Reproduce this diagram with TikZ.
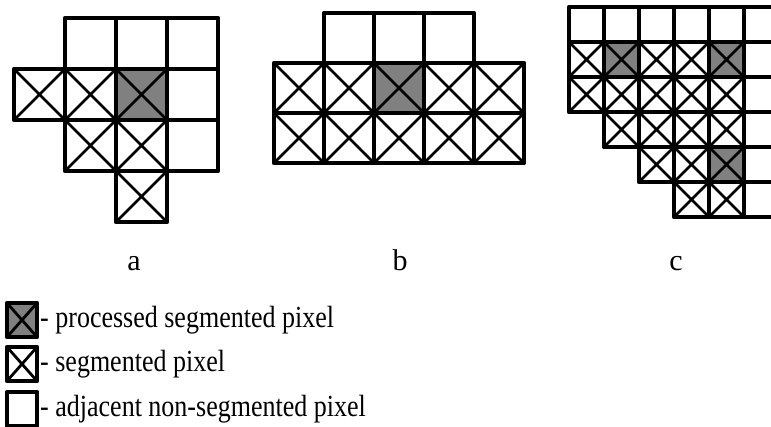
\documentclass[tikz,border=0pt]{standalone}
\usepackage{fontspec}
\setmainfont{Liberation Serif}
\definecolor{pxgray}{HTML}{808080}
\tikzset{
  cellline/.style={line width=4.2pt, line join=round, line cap=round},
  diagline/.style={line width=2.8pt},
  pics/pxe/.style={code={\draw[cellline] (0,0) rectangle (#1,#1);}},
  pics/pxs/.style={code={
    \fill[white] (0,0) rectangle (#1,#1);
    \draw[diagline] (0,0) -- (#1,#1) (#1,0) -- (0,#1);
    \draw[cellline] (0,0) rectangle (#1,#1);}},
  pics/pxp/.style={code={
    \fill[pxgray] (0,0) rectangle (#1,#1);
    \draw[diagline] (0,0) -- (#1,#1) (#1,0) -- (0,#1);
    \draw[cellline] (0,0) rectangle (#1,#1);}},
  pics/lgp/.style={code={
    \fill[pxgray] (0,0) rectangle (30,34);
    \draw[diagline] (0,0) -- (30,34) (30,0) -- (0,34);
    \draw[cellline] (0,0) rectangle (30,34);}},
  pics/lgs/.style={code={
    \fill[white] (0,0) rectangle (30,34);
    \draw[diagline] (0,0) -- (30,34) (30,0) -- (0,34);
    \draw[cellline] (0,0) rectangle (30,34);}},
  pics/lge/.style={code={\draw[cellline] (0,0) rectangle (30,34);}},
  lbl/.style={font=\fontsize{30}{32}\selectfont, anchor=base},
  legtext/.style={font=\fontsize{26}{28}\selectfont, anchor=west, inner sep=0pt}
}
\newcommand{\tallt}[1]{\scalebox{1}[1.18]{#1}}
\begin{document}
\begin{tikzpicture}[x=1pt,y=-1pt]
\useasboundingbox (0,0) rectangle (771,426);
\clip (0,0) rectangle (771,426);
% grid a
\foreach \i/\j in {1/0,2/0,3/0,3/1,3/2}
  \pic at ({14+51*\i},{18+51*\j}) {pxe=51};
\foreach \i/\j in {0/1,1/1,1/2,2/2,2/3}
  \pic at ({14+51*\i},{18+51*\j}) {pxs=51};
\pic at ({14+51*2},{18+51*1}) {pxp=51};
% grid b
\foreach \i/\j in {1/0,2/0,3/0}
  \pic at ({274+50*\i},{13+50*\j}) {pxe=50};
\foreach \i/\j in {0/1,1/1,3/1,4/1,0/2,1/2,2/2,3/2,4/2}
  \pic at ({274+50*\i},{13+50*\j}) {pxs=50};
\pic at ({274+50*2},{13+50*1}) {pxp=50};
% grid c
\foreach \i/\j in {0/0,1/0,2/0,3/0,4/0,5/0,5/1,5/2,5/3,5/4,5/5}
  \pic at ({569+35*\i},{7+35*\j}) {pxe=35};
\foreach \i/\j in {0/1,2/1,3/1,0/2,1/2,2/2,3/2,4/2,1/3,2/3,3/3,4/3,2/4,3/4,3/5,4/5}
  \pic at ({569+35*\i},{7+35*\j}) {pxs=35};
\foreach \i/\j in {1/1,4/1,4/4}
  \pic at ({569+35*\i},{7+35*\j}) {pxp=35};
% labels
\node[lbl] (la) at (134,270) {a};
\node[lbl] (lb) at (400,270) {b};
\node[lbl] (lc) at (676,270) {c};
% legend
\pic at (7,303) {lgp};
\pic at (7,347) {lgs};
\pic at (7,392) {lge};
\node[legtext] (t1) at (40,320) {\tallt{- processed segmented pixel}};
\node[legtext] (t2) at (40,364) {\tallt{- segmented pixel}};
\node[legtext] (t3) at (40,409) {\tallt{- adjacent non-segmented pixel}};
\end{tikzpicture}
\end{document}
